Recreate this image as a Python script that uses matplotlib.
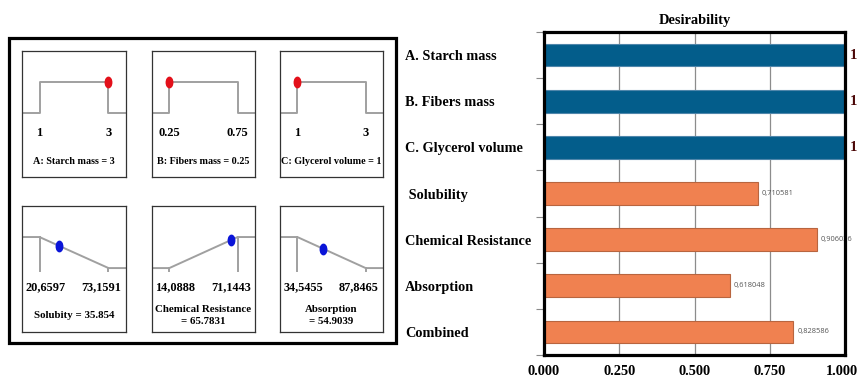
import numpy as np
import matplotlib
matplotlib.use("Agg")
import matplotlib.pyplot as plt
from matplotlib.patches import Rectangle
from matplotlib.path import Path
from matplotlib.transforms import Affine2D, ScaledTranslation

# ---------------- data ----------------
factor_titles = ["A: Starch mass = 3", "B: Fibers mass = 0.25", "C: Glycerol volume = 1"]
factor_low = [1, 0.25, 1]
factor_high = [3, 0.75, 3]
factor_value = [3, 0.25, 1]
factor_low_labels = ["1", "0.25", "1"]
factor_high_labels = ["3", "0.75", "3"]

response_titles = ["Solubity = 35.854", "Chemical Resistance\n= 65.7831", "Absorption\n= 54.9039"]
response_low = [20.6597, 14.0888, 34.5455]
response_high = [73.1591, 71.1443, 87.8465]
response_value = [35.854, 65.7831, 54.9039]
response_goal = ["min", "max", "min"]
response_low_labels = ["20,6597", "14,0888", "34,5455"]
response_high_labels = ["73,1591", "71,1443", "87,8465"]

categories = ["A. Starch mass", "B. Fibers mass", "C. Glycerol volume", " Solubility",
              "Chemical Resistance", "Absorption", "Combined"]
desirability = [1, 1, 1, 0.710581, 0.906036, 0.618048, 0.828586]
desirability_labels = ["1", "1", "1", "0,710581", "0,906036", "0,618048", "0,828586"]
bar_kind = ["factor", "factor", "factor", "resp", "resp", "resp", "resp"]
x_ticks = [0.0, 0.25, 0.5, 0.75, 1.0]
x_tick_labels = ["0.000", "0.250", "0.500", "0.750", "1.000"]

# ---------------- figure ----------------
W, H = 859, 379
fig = plt.figure(figsize=(W / 100, H / 100), dpi=100)
SERIF = "Liberation Serif"


def px_axes(x0, y0, x1, y1):
    return fig.add_axes([x0 / W, 1 - y1 / H, (x1 - x0) / W, (y1 - y0) / H])


# outer box for the left part
fig.add_artist(Rectangle((9 / W, 1 - 343 / H), (396 - 9) / W, (343 - 38) / H,
                         transform=fig.transFigure, fill=False, lw=2.3, ec="black"))

ellipse = Path.unit_circle().transformed(Affine2D().scale(0.62, 1.0))
LINE_C = "#a0a0a0"
col_x = [(22, 126), (152, 255), (280, 383)]
row_y = [(51, 177), (206, 332)]


def setup_panel(ax, lo, hi):
    pad = 17.5 / 69 * (hi - lo)
    ax.set_xlim(lo - pad, hi + pad)
    ax.set_ylim(-2.06, 2.0)
    ax.set_xticks([])
    ax.set_yticks([])
    for s in ax.spines.values():
        s.set_color("#333333")
        s.set_linewidth(0.9)
    return pad


# top row: factors
for i in range(3):
    ax = px_axes(col_x[i][0], row_y[0][0], col_x[i][1], row_y[0][1])
    lo, hi = factor_low[i], factor_high[i]
    pad = setup_panel(ax, lo, hi)
    ax.plot([lo - pad, lo, lo, hi, hi, hi + pad], [0, 0, 1, 1, 0, 0], color=LINE_C, lw=1.4)
    ax.plot([factor_value[i]], [desirability[i]], marker=ellipse, ms=7.5,
            color="#e3101a", ls="none")
    ax.text(lo, -0.64, factor_low_labels[i], ha="center", va="center",
            family=SERIF, weight="bold", fontsize=9)
    ax.text(hi, -0.64, factor_high_labels[i], ha="center", va="center",
            family=SERIF, weight="bold", fontsize=9)
    ax.text((lo + hi) / 2, -1.55, factor_titles[i], ha="center", va="center",
            family=SERIF, weight="bold", fontsize=7.3)

# bottom row: responses
for i in range(3):
    ax = px_axes(col_x[i][0], row_y[1][0], col_x[i][1], row_y[1][1])
    lo, hi = response_low[i], response_high[i]
    pad = setup_panel(ax, lo, hi)
    if response_goal[i] == "min":
        ys = [1, 1, 0, 0]
    else:
        ys = [0, 0, 1, 1]
    ax.plot([lo - pad, lo, hi, hi + pad], ys, color=LINE_C, lw=1.4)
    ax.plot([lo, lo], [ys[1], -0.1], color=LINE_C, lw=1.4)
    ax.plot([hi, hi], [ys[2], -0.1], color=LINE_C, lw=1.4)
    ax.plot([response_value[i]], [desirability[3 + i]], marker=ellipse, ms=7.5,
            color="#0a14d8", ls="none")
    ax.annotate(response_low_labels[i], xy=(lo, -0.62), xytext=(6, 0),
                textcoords="offset pixels", ha="center", va="center",
                family=SERIF, weight="bold", fontsize=8.8)
    ax.annotate(response_high_labels[i], xy=(hi, -0.62), xytext=(-7, 0),
                textcoords="offset pixels", ha="center", va="center",
                family=SERIF, weight="bold", fontsize=8.8)
    ax.text((lo + hi) / 2, -1.52, response_titles[i], ha="center", va="center",
            family=SERIF, weight="bold", fontsize=7.8, linespacing=1.4)

# ---------------- desirability bar chart ----------------
ax = px_axes(544, 32, 845, 355)
y = np.arange(len(categories))
face = ["#035d8b" if k == "factor" else "#f08150" for k in bar_kind]
edge = ["#4f86ab" if k == "factor" else "#b8653f" for k in bar_kind]
ax.barh(y, desirability, height=0.49, color=face, edgecolor=edge, linewidth=0.8, zorder=2)
ax.set_xlim(0, 1)
ax.set_ylim(len(categories) - 0.5, -0.5)
ax.set_xticks(x_ticks)
ax.set_xticklabels(x_tick_labels, family=SERIF, weight="bold", fontsize=10.4)
ax.tick_params(axis="x", length=0, pad=7.5)
last = ax.get_xticklabels()[-1]
last.set_transform(last.get_transform() + ScaledTranslation(-3 / 100, 0, fig.dpi_scale_trans))
ax.grid(axis="x", color="#8c8c8c", lw=0.9, zorder=1)
ax.set_yticks(y)
ax.set_yticklabels(categories, family=SERIF, weight="bold", fontsize=10.3)
for lab in ax.get_yticklabels():
    lab.set_horizontalalignment("left")
ax.tick_params(axis="y", which="major", length=0, pad=100)
ax.set_yticks(np.arange(-0.5, len(categories)), minor=True)
ax.tick_params(axis="y", which="minor", length=5.5, width=0.8, color="#8a8a8a", direction="out")
for s in ax.spines.values():
    s.set_linewidth(2.3)
    s.set_color("black")
    s.set_zorder(5)
ax.set_title("Desirability", family=SERIF, weight="bold", fontsize=10.4, pad=6)

for i, (v, lab) in enumerate(zip(desirability, desirability_labels)):
    if bar_kind[i] == "factor":
        ax.annotate(lab, xy=(v, i), xytext=(5, 0), textcoords="offset pixels",
                    ha="left", va="center", family=SERIF, weight="bold",
                    fontsize=10.5, color="#4a0606", annotation_clip=False)
    else:
        ax.annotate(lab, xy=(v, i), xytext=(4, 0), textcoords="offset pixels",
                    ha="left", va="center", family="Open Sans",
                    fontsize=5.4, color="#555555", annotation_clip=False)

fig.savefig("out.png", dpi=100)
